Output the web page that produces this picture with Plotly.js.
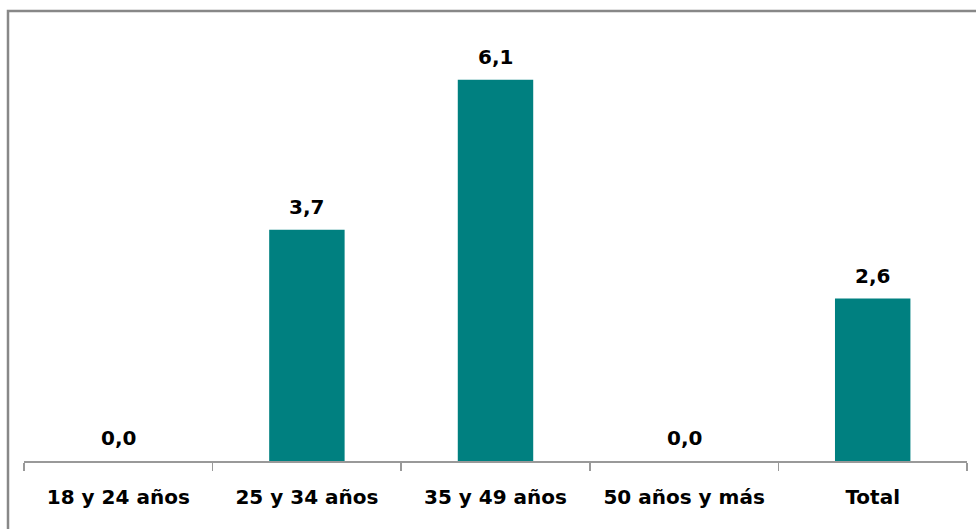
<!DOCTYPE html>
<html>
<head>
<meta charset="utf-8">
<script src="https://cdn.plot.ly/plotly-3.0.1.min.js"></script>
<style>
html,body{margin:0;padding:0;background:#fff;}
#chart{width:976px;height:529px;}
</style>
</head>
<body>
<div id="chart"></div>
<script>
const categories = ["18 y 24 años", "25 y 34 años", "35 y 49 años", "50 años y más", "Total"];
const values = [0.0, 3.7, 6.1, 0.0, 2.6];

const plotTop = 30, axisY = 461, plotLeft = 24, plotRight = 967;
const H = axisY - plotTop;
const W = plotRight - plotLeft;
const FONT = "DejaVu Sans, Verdana, sans-serif";

const trace = {
  type: "bar",
  x: categories,
  y: values,
  marker: {color: "#008080"},
  hoverinfo: "none"
};

const labelAnnotations = categories.map((c, i) => ({
  x: c, y: values[i], xref: "x", yref: "y",
  text: values[i].toFixed(1).replace(".", ","),
  showarrow: false, yanchor: "bottom", yshift: 9,
  font: {family: FONT, size: 20, color: "#000", weight: "bold"}
}));

const layout = {
  width: 976, height: 529,
  margin: {l: plotLeft, r: 976 - plotRight, t: plotTop, b: 529 - axisY},
  paper_bgcolor: "#fff", plot_bgcolor: "#fff",
  separators: ",.",
  showlegend: false,
  bargap: 0.6,
  xaxis: {
    type: "category",
    range: [-0.5, 4.5],
    tickson: "boundaries",
    ticks: "outside", ticklen: 8, tickcolor: "#999", tickwidth: 1.5,
    showline: true, linecolor: "#999", linewidth: 1.5,
    showgrid: false, zeroline: false,
    tickfont: {family: FONT, size: 20, color: "#000", weight: "bold"},
    ticklabelstandoff: 17
  },
  yaxis: {
    range: [0, H / 62.5],
    visible: false, showgrid: false, zeroline: false, fixedrange: true
  },
  annotations: labelAnnotations,
  shapes: [{
    type: "rect", xref: "paper", yref: "paper",
    x0: (8 - plotLeft) / W, x1: (1000 - plotLeft) / W,
    y0: (axisY - 560) / H, y1: (axisY - 11) / H,
    line: {color: "#888", width: 2.5}, fillcolor: "rgba(0,0,0,0)", layer: "below"
  }]
};

Plotly.newPlot("chart", [trace], layout, {displayModeBar: false, staticPlot: true});
</script>
</body>
</html>
